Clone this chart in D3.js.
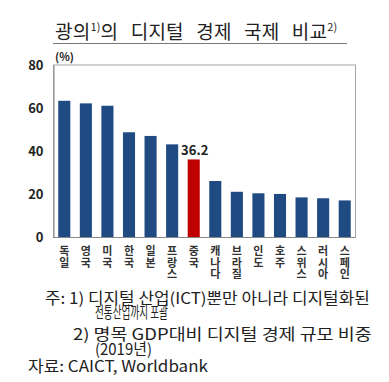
<!DOCTYPE html>
<html><head><meta charset="utf-8">
<script src="https://cdn.jsdelivr.net/npm/d3@7"></script>
<style>
html,body{margin:0;padding:0;background:#fff;}
svg{display:block;}
text{font-family:"Noto Sans CJK KR","Noto Sans",sans-serif;}
</style></head>
<body><svg id="c" width="389" height="382"></svg>
<script>
const categories = ["독일","영국","미국","한국","일본","프랑스","중국","캐나다","브라질","인도","호주","스위스","러시아","스페인"];
const values = [63.4, 62.2, 61.1, 48.8, 47.1, 43.2, 36.2, 26.2, 21.2, 20.5, 20.2, 18.6, 18.2, 17.2];
const highlight = "중국";
const yTicks = [0, 20, 40, 60, 80];
const noteLines = [
  "주: 1) 디지털 산업(ICT)뿐만 아니라 디지털화된",
  "전통산업까지 포괄",
  "2) 명목 GDP대비 디지털 경제 규모 비중",
  "(2019년)",
  "자료: CAICT, Worldbank"
];

const svg = d3.select("#c");
const L = 53.5, R = 355.5, T = 65, B = 237.5;
const x = d3.scaleBand().domain(categories).range([L, R]).paddingInner(0.44).paddingOuter(0.22);
const y = d3.scaleLinear().domain([0, 80]).range([B, T]);

// Title
const title = svg.append("text").attr("x", 55).attr("y", 39).attr("font-size", 19)
  .attr("fill", "#222").attr("word-spacing", 8).attr("letter-spacing", 0.2);
title.append("tspan").text("광의");
title.append("tspan").attr("font-size", 11).attr("dy", -8).text("1)");
title.append("tspan").attr("dy", 8).text("의 디지털 경제 국제 비교");
title.append("tspan").attr("font-size", 11).attr("dy", -8).text("2)");
svg.append("line").attr("x1", 53).attr("x2", 347).attr("y1", 43.5).attr("y2", 43.5).attr("stroke", "#777").attr("stroke-width", 1.2);

// unit
svg.append("text").attr("x", 55).attr("y", 61).attr("font-size", 11).attr("font-weight", "bold").attr("fill", "#222").text("(%)");

// frame
svg.append("rect").attr("x", L).attr("y", T).attr("width", R - L).attr("height", B - T)
  .attr("fill", "none").attr("stroke", "#a6a6a6").attr("stroke-width", 1);

// y axis
const yAxis = svg.append("g").attr("transform", `translate(${L},0)`)
  .call(d3.axisLeft(y).tickValues(yTicks).tickSize(0).tickPadding(10));
yAxis.select(".domain").attr("stroke", "#888");
yAxis.selectAll("text").attr("font-size", 13).attr("font-weight", "bold").attr("fill", "#222")
  .attr("font-family", "'Liberation Sans',Arial,sans-serif");

// bars
svg.append("g").selectAll("rect").data(categories).join("rect")
  .attr("x", d => x(d)).attr("width", x.bandwidth())
  .attr("y", (d, i) => y(values[i])).attr("height", (d, i) => B - y(values[i]))
  .attr("fill", d => d === highlight ? "#c00000" : "#1f4a82");

// value label
const hi = categories.indexOf(highlight);
svg.append("text").attr("x", x(highlight) + x.bandwidth() / 2 + 1).attr("y", y(values[hi]) - 4)
  .attr("text-anchor", "middle").attr("font-size", 13).attr("font-weight", "bold").attr("fill", "#222")
  .attr("font-family", "'Liberation Sans',Arial,sans-serif").text(values[hi].toFixed(1));

// x axis bottom line
svg.append("line").attr("x1", L).attr("x2", R).attr("y1", B).attr("y2", B).attr("stroke", "#888");

// x labels: one character per line
const xl = svg.append("g").selectAll("g").data(categories).join("g");
xl.each(function (d) {
  const g = d3.select(this);
  Array.from(d).forEach((ch, i) => {
    g.append("text").attr("x", x(d) + x.bandwidth() / 2).attr("y", 255 + i * 11.5)
      .attr("text-anchor", "middle").attr("font-size", 11).attr("font-weight", "bold")
      .attr("fill", "#333").text(ch);
  });
});

// notes: horizontally scaled to the reference widths
const noteX = [45, 95, 73, 95, 28];
const noteW = [325, 73, 299, 57, 180];
const noteY = [304, 318, 340, 355, 372];
svg.append("g").selectAll("text").data(noteLines).join("text")
  .attr("x", 0).attr("y", 0)
  .attr("font-size", 15.5).attr("fill", "#222")
  .text(d => d)
  .attr("transform", function (d, i) {
    const w = this.getComputedTextLength();
    return `translate(${noteX[i]},${noteY[i]}) scale(${noteW[i] / w},1)`;
  });
</script></body></html>
